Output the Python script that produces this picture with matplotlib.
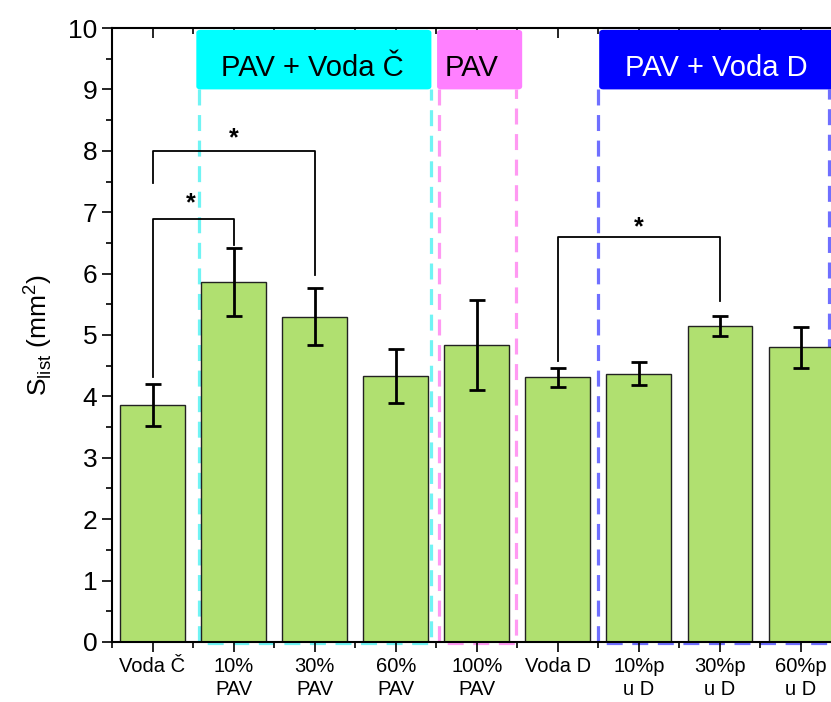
import numpy as np
import matplotlib
matplotlib.use('Agg')
import matplotlib.pyplot as plt
from matplotlib.patches import FancyBboxPatch
from matplotlib.ticker import MultipleLocator

plt.rcParams['font.family'] = ['Liberation Sans', 'DejaVu Sans']

# data
categories = ['Voda Č', '10%\nPAV', '30%\nPAV', '60%\nPAV', '100%\nPAV',
              'Voda D', '10%p\nu D', '30%p\nu D', '60%p\nu D']
means = [3.86, 5.86, 5.30, 4.33, 4.84, 4.31, 4.37, 5.15, 4.80]
errors = [0.34, 0.55, 0.46, 0.44, 0.73, 0.16, 0.19, 0.16, 0.33]

# significance brackets: (left idx, right idx, left leg bottom, right leg bottom, height)
brackets = [(0, 2, 7.48, 5.98, 8.0), (0, 1, 4.32, 6.47, 6.89), (5, 7, 4.58, 5.56, 6.60)]
stars = [(1.0, 8.2), (0.47, 7.15), (6.0, 6.75)]

# group boxes: label, x from, x to, fill colour, dash colour, text colour, text x
groups = [('PAV + Voda Č', 0.54, 3.44, '#00FFFF', '#70F4F4', 'black', 1.97),
          ('PAV', 3.51, 4.56, '#FF80FF', '#FF99F2', 'black', 3.94),
          ('PAV + Voda D', 5.51, 8.6, '#0000FF', '#6F6FFF', 'white', 6.95)]
dash_x = [(0.57, 3.43), (3.54, 4.48), (5.49, 8.35)]

fig = plt.figure(figsize=(8.31, 7.02), dpi=100)
ax = fig.add_axes([0.1348, 0.0855, 0.8779, 0.8746])

x = np.arange(len(categories))

# dashed group outlines (open at the top)
for (x0, x1), g in zip(dash_x, groups):
    ax.plot([x0, x0, x1, x1], [9.0, -0.02, -0.02, 9.0], color=g[4], linewidth=2.3,
            linestyle=(0, (5, 3)), zorder=1, clip_on=False)

ax.bar(x, means, width=0.8, color='#B0E070', edgecolor='#222222', linewidth=1.0, zorder=2)
ax.errorbar(x, means, yerr=errors, fmt='none', ecolor='black', elinewidth=2,
            capsize=6, capthick=2, zorder=3)

# filled group label boxes
for label, x0, x1, fc, dc, tc, tx in groups:
    b = FancyBboxPatch((x0, 9.0), x1 - x0, 0.97, boxstyle='round,pad=0,rounding_size=0.05',
                       facecolor=fc, edgecolor='none', zorder=4)
    ax.add_patch(b)
    ax.text(tx, 9.4, label, color=tc, fontsize=21, ha='center', va='center_baseline', zorder=5)

# significance brackets
for i0, i1, y0, y1, h in brackets:
    ax.plot([i0, i0, i1, i1], [y0, h, h, y1], color='black', linewidth=1.3, zorder=3)
for sx, sy in stars:
    ax.text(sx, sy, '*', fontsize=18, fontweight='bold', ha='center', va='center', zorder=5)

ax.set_xlim(-0.5, 8.5)
ax.set_ylim(0, 10)
ax.set_xticks(x)
ax.set_xticklabels(categories, fontsize=14.5, linespacing=1.3)
ax.xaxis.set_minor_locator(MultipleLocator(1, offset=0.5))
ax.yaxis.set_major_locator(MultipleLocator(1))
ax.yaxis.set_minor_locator(MultipleLocator(0.5))
ax.tick_params(axis='y', which='major', direction='out', length=7, width=1.2, labelsize=19)
ax.tick_params(axis='y', which='minor', direction='out', length=4, width=1.2)
ax.tick_params(axis='x', which='major', direction='out', length=7, width=1.2, top=True)
ax.tick_params(axis='x', which='minor', direction='out', length=4, width=1.2, top=True)
for t in ax.xaxis.get_major_ticks() + ax.xaxis.get_minor_ticks():
    t.tick2line.set_marker(3)
for sp in ax.spines.values():
    sp.set_linewidth(1.5)
ax.set_ylabel('S$_{\\mathregular{list}}$ (mm$^{\\mathregular{2}}$)', fontsize=19, labelpad=10)

fig.savefig('out.png', dpi=100)
